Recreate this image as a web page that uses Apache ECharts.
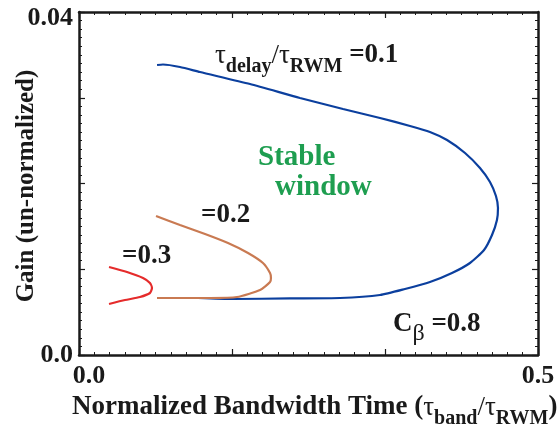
<!DOCTYPE html>
<html>
<head>
<meta charset="utf-8">
<script src="https://cdn.jsdelivr.net/npm/echarts@6/dist/echarts.min.js"></script>
<style>html,body{margin:0;padding:0;background:#fff}#c{width:558px;height:430px}</style>
</head>
<body>
<div id="c"></div>
<script>
// Data (x: normalized bandwidth time, y: gain)
const delay01 = [
  [0.0850,0.03382],[0.0915,0.03388],[0.1100,0.03359],[0.1318,0.03300],[0.1863,0.03160],
  [0.2407,0.02997],[0.2876,0.02869],[0.3279,0.02764],[0.3606,0.02671],[0.3823,0.02601],
  [0.4009,0.02507],[0.4205,0.02356],[0.4368,0.02181],[0.4477,0.02018],[0.4542,0.01854],
  [0.4564,0.01714],[0.4553,0.01574],[0.4499,0.01399],[0.4412,0.01224],[0.4259,0.01073],
  [0.4063,0.00956],[0.3823,0.00851],[0.3551,0.00770],[0.3279,0.00700],[0.2843,0.00665],
  [0.2298,0.00660],[0.1678,0.00653],[0.1296,0.00665]
];
const delay02 = [
  [0.0839,0.01621],[0.1100,0.01516],[0.1373,0.01411],[0.1623,0.01306],[0.1841,0.01190],
  [0.2004,0.01073],[0.2081,0.00956],[0.2091,0.00898],[0.2081,0.00851],[0.1972,0.00758],
  [0.1721,0.00676],[0.1427,0.00665],[0.0850,0.00665]
];
const delay03 = [
  [0.0327,0.01026],[0.0523,0.00968],[0.0697,0.00898],[0.0773,0.00840],[0.0795,0.00781],
  [0.0773,0.00723],[0.0664,0.00676],[0.0501,0.00641],[0.0327,0.00595]
];
const xTickLabels = {0: '0.0', 0.5: '0.5'};
const yTickLabels = {0: '0.0', 0.04: '0.04'};

const FONT = "'Liberation Serif','Times New Roman',serif";
const chart = echarts.init(document.getElementById('c'), null, {renderer: 'canvas'});

function lab(map, v) {
  for (const k in map) { if (Math.abs(v - Number(k)) < 1e-9) return map[k]; }
  return '';
}
const axisCommon = {
  axisLine: {show: true, onZero: false, lineStyle: {color: '#1a1a1a', width: 2.5}},
  axisTick: {show: true, inside: true, length: 6, lineStyle: {color: '#1a1a1a', width: 1.2}},
  minorTick: {show: true, splitNumber: 10, length: 3, lineStyle: {color: '#1a1a1a', width: 1}},
  splitLine: {show: false}
};
const xBase = Object.assign({type: 'value', min: 0, max: 0.5, interval: 0.5 / 3}, axisCommon);
const yBase = Object.assign({type: 'value', min: 0, max: 0.04, interval: 0.01}, axisCommon);

function richSet(F, S) {
  return {
    m: {fontFamily: FONT, fontSize: F, fontWeight: 'bold', color: '#1a1a1a', lineHeight: F + 3, verticalAlign: 'top'},
    g: {fontFamily: FONT, fontSize: F, fontWeight: 'normal', color: '#1a1a1a', lineHeight: F + 3, verticalAlign: 'top'},
    s: {fontFamily: FONT, fontSize: S, fontWeight: 'bold', color: '#1a1a1a', lineHeight: S + 2, padding: [Math.round(F * 0.55), 0, 0, 0], verticalAlign: 'top'},
    b: {fontFamily: FONT, fontSize: F - 3, fontWeight: 'normal', color: '#1a1a1a', lineHeight: F - 1, padding: [Math.round(F * 0.4), 0, 0, 0], verticalAlign: 'top'}
  };
}

function txt(x, y, text, F, S) {
  return {type: 'text', left: x, top: y, style: {text: text, rich: richSet(F, S), fill: '#1a1a1a'}};
}

chart.setOption({
  animation: false,
  backgroundColor: '#fff',
  grid: {left: 79, right: 20, top: 12, bottom: 75, containLabel: false},
  xAxis: [
    Object.assign({}, xBase, {position: 'bottom',
      axisLabel: {show: true, margin: 8, color: '#1a1a1a', fontFamily: FONT, fontSize: 26, fontWeight: 'bold',
        showMinLabel: true, showMaxLabel: true,
        formatter: function (v) { const t = lab(xTickLabels, v); if (t === '0.0') return '{l|0.0}'; return t; },
        rich: {l: {fontFamily: FONT, fontSize: 26, fontWeight: 'bold', color: '#1a1a1a', padding: [0, 0, 0, 20]}}
      }}),
    Object.assign({}, xBase, {position: 'top', axisLabel: {show: false}})
  ],
  yAxis: [
    Object.assign({}, yBase, {position: 'left',
      axisLabel: {show: true, margin: 6, color: '#1a1a1a', fontFamily: FONT, fontSize: 26, fontWeight: 'bold',
        showMinLabel: true, showMaxLabel: true,
        formatter: function (v) { const t = lab(yTickLabels, v); if (t === '0.04') return '{t|0.04}'; return t; },
        rich: {t: {fontFamily: FONT, fontSize: 26, fontWeight: 'bold', color: '#1a1a1a', padding: [12, 0, 0, 0]}}
      }}),
    Object.assign({}, yBase, {position: 'right', axisLabel: {show: false}})
  ],
  series: [
    {type: 'line', data: delay01, xAxisIndex: 0, yAxisIndex: 0, showSymbol: false, smooth: 0.2,
      lineStyle: {color: '#0b3f9e', width: 2.2}, clip: false},
    {type: 'line', data: delay02, xAxisIndex: 0, yAxisIndex: 0, showSymbol: false, smooth: 0.2,
      lineStyle: {color: '#c97a52', width: 2.2}, clip: false},
    {type: 'line', data: delay03, xAxisIndex: 0, yAxisIndex: 0, showSymbol: false, smooth: 0.2,
      lineStyle: {color: '#e52b2b', width: 2.2}, clip: false}
  ],
  graphic: [
    txt(215, 42, '{g|τ}{s|delay}{g|/τ}{s|RWM}{m| =0.1}', 27, 20),
    {type: 'text', left: 258, top: 143, style: {text: 'Stable', font: 'bold 29px ' + FONT, fill: '#1e9e50'}},
    {type: 'text', left: 275, top: 173, style: {text: 'window', font: 'bold 29px ' + FONT, fill: '#1e9e50'}},
    txt(201, 202, '{m|=0.2}', 27, 20),
    txt(122, 243, '{m|=0.3}', 27, 20),
    txt(393, 311, '{m|C}{b|β}{m| =0.8}', 27, 20),
    txt(72, 394, '{m|Normalized Bandwidth Time (}{g|τ}{s|band}{g|/τ}{s|RWM}{m|)}', 27, 20),
    {type: 'text', x: 27, y: 186, rotation: Math.PI / 2,
      style: {text: 'Gain (un-normalized)', font: 'bold 25px ' + FONT, fill: '#1a1a1a', align: 'center', verticalAlign: 'middle'}}
  ]
});
</script>
</body>
</html>
